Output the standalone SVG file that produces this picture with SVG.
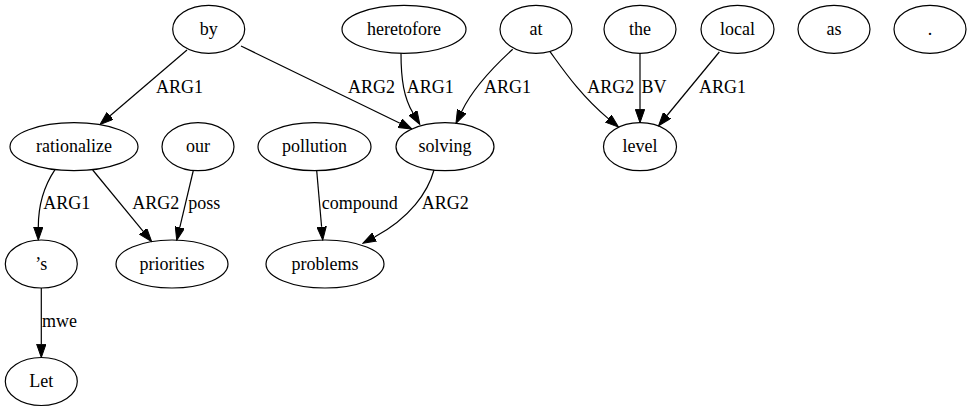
<svg xmlns="http://www.w3.org/2000/svg" width="972" height="411" viewBox="0 0 972 411" font-family="'Liberation Serif', 'Times New Roman', Times, 'DejaVu Serif', serif">
<style>
.n ellipse{fill:none;stroke:#000;stroke-width:1.2}
text{font-family:'Liberation Serif','Times New Roman',Times,'DejaVu Serif',serif;font-size:18px;fill:#000}
.n text{text-anchor:middle}
.e path{fill:none;stroke:#000;stroke-width:1.2;marker-end:url(#arr)}
</style>
<defs>
<marker id="arr" markerWidth="14" markerHeight="10" refX="0" refY="5" orient="auto" markerUnits="userSpaceOnUse">
<path d="M0,0.33 L13.3,5 L0,9.67 z" fill="#000" stroke="#000" stroke-width="1"/>
</marker>
</defs>
<rect width="972" height="411" fill="#fff"/>
<g id="edges" class="e">
<path d="M187,50 L110.1,115.8"/>
<text x="156" y="93.3">ARG1</text>
<path d="M241,46 L400,123.2"/>
<text x="348" y="93.3">ARG2</text>
<path d="M401,53.3 C401,80 404,98 413,113"/>
<text x="406.7" y="93.3">ARG1</text>
<path d="M512.7,49.3 C490,70 472,90 461.7,111.5"/>
<text x="484" y="93.3">ARG1</text>
<path d="M550,51.7 C562,68 580,95 608.3,118.6"/>
<text x="587.3" y="93.3">ARG2</text>
<path d="M640,53.3 L640,109.4"/>
<text x="641.5" y="93.3">BV</text>
<path d="M719.3,52 L667,115.5"/>
<text x="699" y="93.3">ARG1</text>
<path d="M55,169.6 C44,186 38.3,205 38.3,226.9"/>
<text x="43.3" y="209.3">ARG1</text>
<path d="M92.7,170 L143.2,231.3"/>
<text x="132.3" y="209.3">ARG2</text>
<path d="M193.3,170.5 L179.8,227.4"/>
<text x="188.3" y="209.3">poss</text>
<path d="M316.7,170.6 L321.6,226.8"/>
<text x="321.7" y="209.3">compound</text>
<path d="M434,170 C428,192 410,218 374.6,237"/>
<text x="421.7" y="209.3">ARG2</text>
<path d="M41.3,288 L41.3,344.2"/>
<text x="42" y="327.3">mwe</text>
</g>
<g id="by" class="n"><ellipse cx="208.7" cy="29.3" rx="36" ry="24"/><text x="208.7" y="34.8">by</text></g>
<g id="heretofore" class="n"><ellipse cx="404" cy="29.3" rx="62" ry="24"/><text x="404" y="34.8">heretofore</text></g>
<g id="at" class="n"><ellipse cx="536" cy="29.3" rx="36" ry="24"/><text x="536" y="34.8">at</text></g>
<g id="the" class="n"><ellipse cx="640" cy="29.3" rx="36" ry="24"/><text x="640" y="34.8">the</text></g>
<g id="local" class="n"><ellipse cx="737.5" cy="29.3" rx="36.5" ry="24"/><text x="737.5" y="34.8">local</text></g>
<g id="as" class="n"><ellipse cx="834" cy="29.3" rx="36" ry="24"/><text x="834" y="34.8">as</text></g>
<g id="period" class="n"><ellipse cx="930" cy="29.3" rx="36" ry="24"/><text x="930" y="34.8">.</text></g>
<g id="rationalize" class="n"><ellipse cx="74" cy="146.7" rx="64" ry="24"/><text x="74" y="152.2">rationalize</text></g>
<g id="our" class="n"><ellipse cx="198" cy="146.7" rx="36" ry="24"/><text x="198" y="152.2">our</text></g>
<g id="pollution" class="n"><ellipse cx="314.5" cy="146.7" rx="56.5" ry="24"/><text x="314.5" y="152.2">pollution</text></g>
<g id="solving" class="n"><ellipse cx="445" cy="146.7" rx="49" ry="24"/><text x="445" y="152.2">solving</text></g>
<g id="level" class="n"><ellipse cx="640" cy="146.7" rx="36.5" ry="24"/><text x="640" y="152.2">level</text></g>
<g id="s" class="n"><ellipse cx="41.3" cy="264" rx="36" ry="24"/><text x="41.3" y="269.5">’s</text></g>
<g id="priorities" class="n"><ellipse cx="172" cy="264" rx="56" ry="24"/><text x="172" y="269.5">priorities</text></g>
<g id="problems" class="n"><ellipse cx="325" cy="264" rx="59" ry="24"/><text x="325" y="269.5">problems</text></g>
<g id="Let" class="n"><ellipse cx="41.3" cy="381.5" rx="36" ry="24"/><text x="41.3" y="387">Let</text></g>
</svg>
